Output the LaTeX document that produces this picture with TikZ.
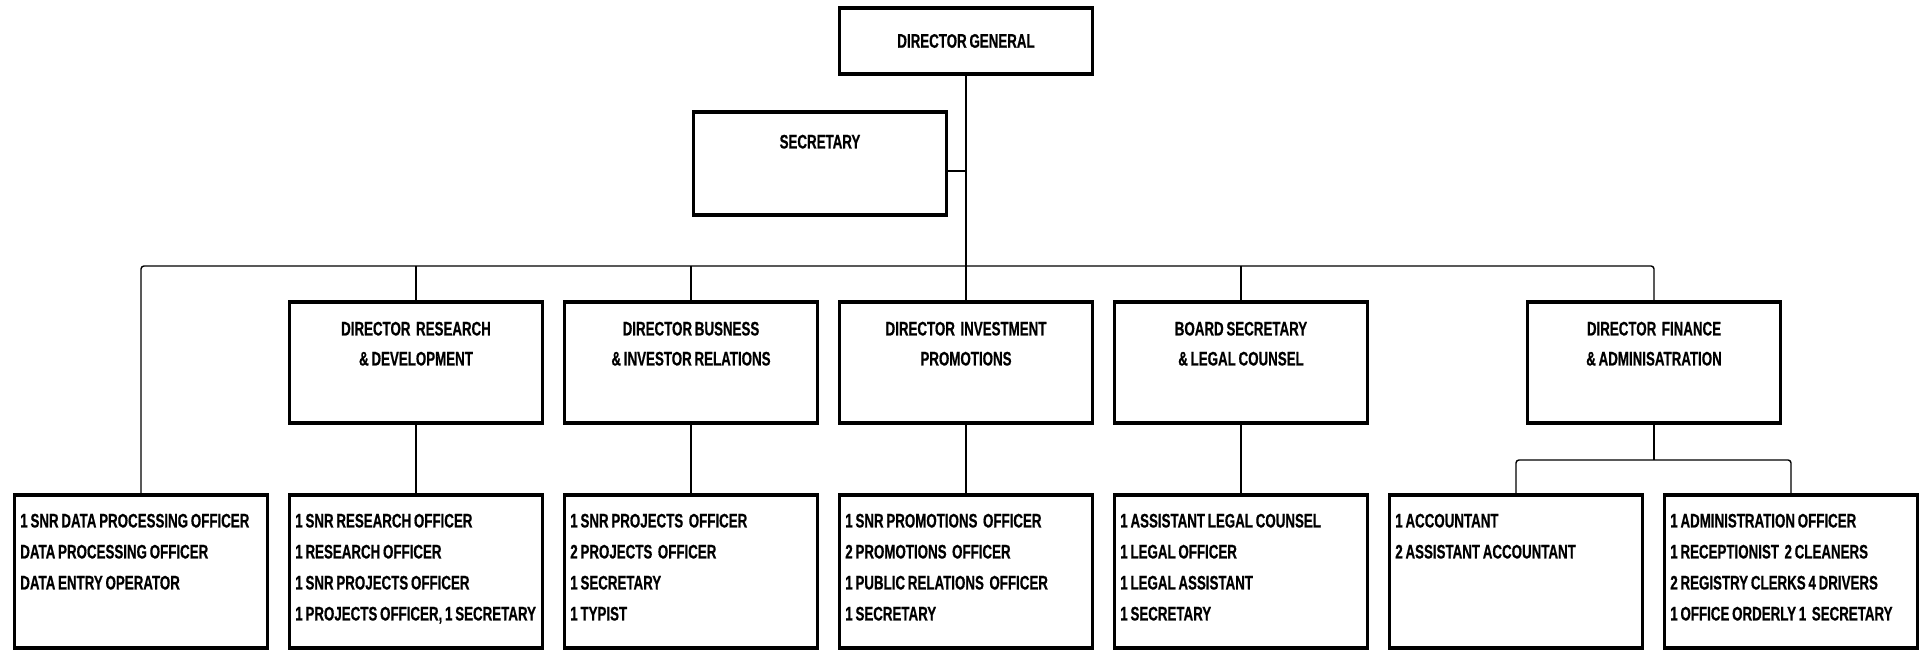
\documentclass[tikz,border=0pt]{standalone}
\usepackage{fontspec}
\setmainfont{Liberation Sans}[FakeStretch=0.68, WordSpace=0.75, BoldFeatures={FakeBold=0.6}]
\usetikzlibrary{positioning,calc}

\begin{document}
\begin{tikzpicture}[x=0.5pt, y=-0.5pt,
    post/.style={draw, line width=1.6pt, minimum width=126.5pt, inner sep=0pt, font=\bfseries\fontsize{9.8}{15}\selectfont},
    head/.style={post, minimum height=60.5pt},
    staff/.style={post, minimum height=76.5pt},
    txt/.style={font=\bfseries\fontsize{9.8}{15}\selectfont, inner sep=0pt, anchor=north, align=center},
    list/.style={font=\bfseries\fontsize{9.8}{15.5}\selectfont, inner sep=0pt, anchor=north west, align=left},
    link/.style={line width=0.7pt, rounded corners=1.5pt},
]
\useasboundingbox (0,0) rectangle (1928,651);

% top
\node[post, minimum height=33pt] (dg) at (966,41) {DIRECTOR GENERAL};
\node[post, minimum height=51.5pt] (sec) at (820,163.5) {};
\node[txt, below=12pt of sec.north] (sectxt) {SECRETARY};

% directors
\node[head] (rd) at (416,362.5) {};
\node[head] (bir) at (691,362.5) {};
\node[head] (ip) at (966,362.5) {};
\node[head] (bs) at (1241,362.5) {};
\node[head] (fa) at (1654,362.5) {};
\node[txt, below=10.5pt of rd.north] (rdtxt) {DIRECTOR~ RESEARCH\\\& DEVELOPMENT};
\node[txt, below=10.5pt of bir.north] (birtxt) {DIRECTOR BUSNESS\\\& INVESTOR RELATIONS};
\node[txt, below=10.5pt of ip.north] (iptxt) {DIRECTOR~ INVESTMENT\\PROMOTIONS};
\node[txt, below=10.5pt of bs.north] (bstxt) {BOARD SECRETARY\\\& LEGAL COUNSEL};
\node[txt, below=10.5pt of fa.north] (fatxt) {DIRECTOR~ FINANCE\\\& ADMINISATRATION};

% staff
\node[staff] (dp) at (141,571.5) {};
\node[staff] (rdstaff) at (416,571.5) {};
\node[staff] (birstaff) at (691,571.5) {};
\node[staff] (ipstaff) at (966,571.5) {};
\node[staff] (bsstaff) at (1241,571.5) {};
\node[staff] (acc) at (1516,571.5) {};
\node[staff] (adm) at (1791,571.5) {};
\node[list] (dptxt) at ([xshift=3.5pt,yshift=-10pt]dp.north west) {1 SNR DATA PROCESSING OFFICER\\DATA PROCESSING OFFICER\\DATA ENTRY OPERATOR};
\node[list] (rdlist) at ([xshift=3.5pt,yshift=-10pt]rdstaff.north west) {1 SNR RESEARCH OFFICER\\1 RESEARCH OFFICER\\1 SNR PROJECTS OFFICER\\1 PROJECTS OFFICER, 1 SECRETARY};
\node[list] (birlist) at ([xshift=3.5pt,yshift=-10pt]birstaff.north west) {1 SNR PROJECTS~ OFFICER\\2 PROJECTS~ OFFICER\\1 SECRETARY\\1 TYPIST};
\node[list] (iplist) at ([xshift=3.5pt,yshift=-10pt]ipstaff.north west) {1 SNR PROMOTIONS~ OFFICER\\2 PROMOTIONS~ OFFICER\\1 PUBLIC RELATIONS~ OFFICER\\1 SECRETARY};
\node[list] (bslist) at ([xshift=3.5pt,yshift=-10pt]bsstaff.north west) {1 ASSISTANT LEGAL COUNSEL\\1 LEGAL OFFICER\\1 LEGAL ASSISTANT\\1 SECRETARY};
\node[list] (acclist) at ([xshift=3.5pt,yshift=-10pt]acc.north west) {1 ACCOUNTANT\\2 ASSISTANT ACCOUNTANT};
\node[list] (admlist) at ([xshift=3.5pt,yshift=-10pt]adm.north west) {1 ADMINISTRATION OFFICER\\1 RECEPTIONIST~ 2 CLEANERS\\2 REGISTRY CLERKS 4 DRIVERS\\1 OFFICE ORDERLY 1~ SECRETARY};

% lines
\coordinate (bus) at (966,266);
\coordinate (secj) at (966,171);
\coordinate (sub) at (1654,460);
\draw[link] (dg) -- (ip);
\draw[link] (sec.east |- secj) -- (secj);
\draw[link] (dp.north) -- (dp.north |- bus) -- (fa.north |- bus) -- (fa.north);
\foreach \n in {rd,bir,bs}
    \draw[link] (\n.north |- bus) -- (\n.north);
\foreach \a/\b in {rd/rdstaff, bir/birstaff, ip/ipstaff, bs/bsstaff}
    \draw[link] (\a) -- (\b);
\draw[link] (fa) -- (sub);
\draw[link] (acc.north) -- (acc.north |- sub) -- (adm.north |- sub) -- (adm.north);

\end{tikzpicture}
\end{document}
